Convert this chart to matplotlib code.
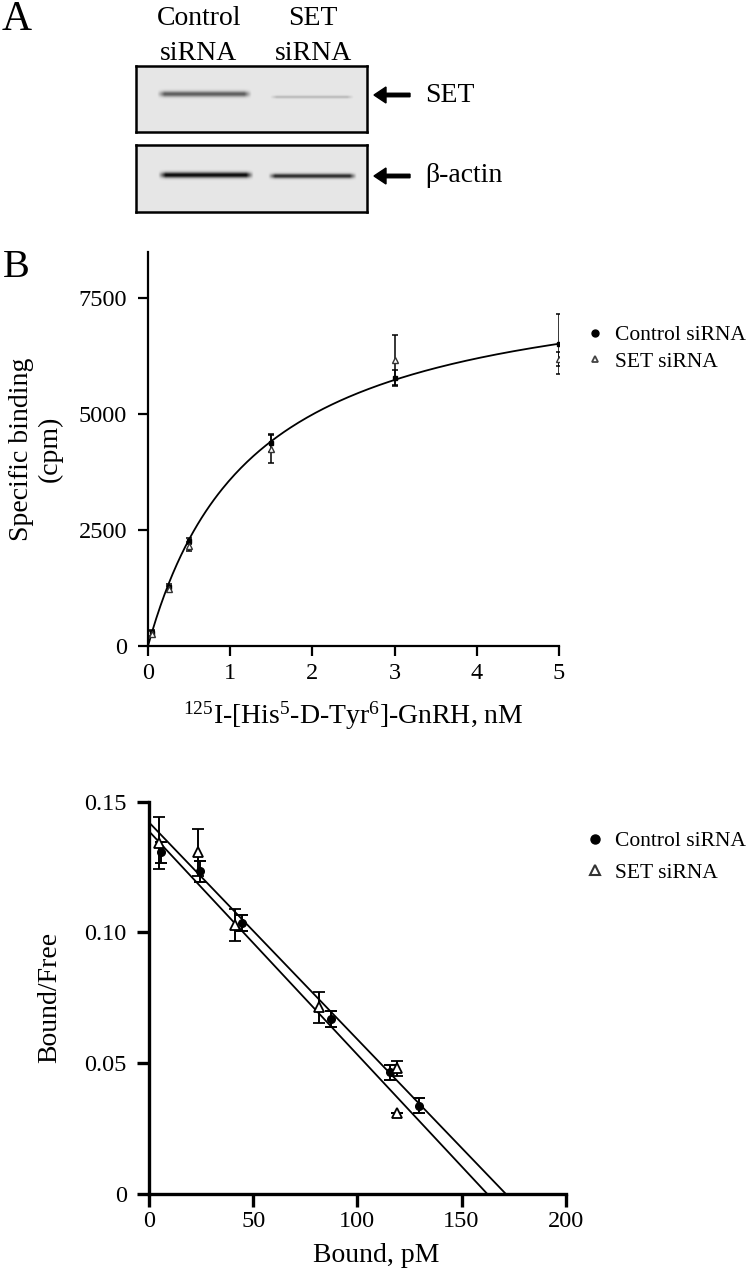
import numpy as np
import matplotlib
matplotlib.use("Agg")
import matplotlib.pyplot as plt
from matplotlib.lines import Line2D

plt.rcParams['font.family'] = ['Liberation Serif', 'DejaVu Serif']
plt.rcParams['mathtext.fontset'] = 'custom'
plt.rcParams['mathtext.rm'] = 'Liberation Serif'

# --- panel A: western blot band intensities (0 = none, 1 = black)
lanes = ['Control\nsiRNA', 'SET\nsiRNA']
set_band = [0.6, 0.2]
actin_band = [0.97, 0.82]

# --- panel B: saturation binding
conc_nM = [0.05, 0.25, 0.5, 1.5, 3, 5]
ctrl_bind = [280, 1270, 2270, 4375, 5780, 6520]
ctrl_bind_err = [60, 60, 60, 200, 170, 650]
set_bind = [260, 1240, 2150, 4245, 6160, 6185]
set_bind_err = [60, 60, 90, 300, 540, 150]
bmax_fit = 8190
kd_fit = 1.28

# --- panel C: Scatchard
ctrl_bound = [5.8, 24.3, 44.4, 87.4, 115.6, 129.4]
ctrl_bf = [0.1307, 0.1234, 0.1036, 0.0670, 0.0465, 0.0338]
ctrl_bf_err = [0.004, 0.004, 0.003, 0.003, 0.003, 0.003]
set_bound = [5.0, 23.5, 41.2, 81.8, 118.8, 118.8]
set_bf = [0.1343, 0.1307, 0.1029, 0.0714, 0.0480, 0.0310]
set_bf_err = [0.010, 0.009, 0.006, 0.006, 0.003, 0.0]
ctrl_line = (0.1421, 171.3)   # (y intercept, x intercept)
set_line = (0.1387, 162.4)

W, H = 750, 1279
fig = plt.figure(figsize=(7.5, 12.79), dpi=100)


def fx(px):
    return px / W


def fy(py):
    return 1 - py / H


# ---------------- Panel A ----------------
fig.text(fx(2), fy(30), 'A', fontsize=30, va='baseline', ha='left')
fig.text(fx(199), fy(25), 'Control', fontsize=20, ha='center', va='baseline')
fig.text(fx(199), fy(60), 'siRNA', fontsize=20, ha='center', va='baseline')
fig.text(fx(313), fy(25), 'SET', fontsize=20, ha='center', va='baseline')
fig.text(fx(313), fy(60), 'siRNA', fontsize=20, ha='center', va='baseline')


def draw_band(ax, x0, x1, yc, h, level):
    nx, ny = 200, 60
    xs = np.linspace(0, 1, nx)
    ys = np.linspace(-1.5, 1.5, ny)
    taper = np.clip(np.minimum(xs, 1 - xs) / 0.08, 0, 1)
    prof = np.exp(-ys ** 2 * 2.0)
    a = level * np.outer(prof, taper)
    img = np.zeros((ny, nx, 4))
    img[..., 3] = np.clip(a, 0, 1)
    ax.imshow(img, extent=(x0, x1, yc - 1.5 * h, yc + 1.5 * h), origin='lower',
              aspect='auto', interpolation='bilinear', zorder=2)


blot_boxes = [
    (66, 132, set_band, [(0.09, 0.50, 0.576, 0.06), (0.58, 0.94, 0.53, 0.03)], 'SET', 95),
    (145, 211.7, actin_band, [(0.095, 0.51, 0.55, 0.055), (0.57, 0.955, 0.525, 0.045)], 'β-actin', 176),
]
for top, bot, levels, geo, name, ymid in blot_boxes:
    bx = fig.add_axes([fx(136), fy(bot), (367 - 136) / W, (bot - top) / H])
    bx.set_facecolor('#e6e6e6')
    bx.set_xlim(0, 1)
    bx.set_ylim(0, 1)
    bx.set_xticks([])
    bx.set_yticks([])
    for sp in bx.spines.values():
        sp.set_linewidth(1.8)
    for lvl, (x0, x1, yc, h) in zip(levels, geo):
        draw_band(bx, x0, x1, yc, h, lvl)
    fig.add_artist(matplotlib.patches.FancyArrow(
        fx(410), fy(ymid), fx(374) - fx(410), 0, width=3.5 / H,
        head_width=16 / H, head_length=12 / W, length_includes_head=True,
        color='black', transform=fig.transFigure))
    fig.text(fx(425), fy(ymid), name, fontsize=20, va='center', ha='left')

# ---------------- Panel B ----------------
fig.text(fx(3), fy(277), 'B', fontsize=29, va='baseline', ha='left')
axb = fig.add_axes([fx(148), fy(646), (559 - 148) / W, (646 - 252) / H])
xfit = np.linspace(0, 5, 200)
axb.plot(xfit, bmax_fit * xfit / (kd_fit + xfit), color='black', lw=1.3, zorder=2)
axb.errorbar(conc_nM, ctrl_bind, yerr=ctrl_bind_err, fmt='s', ms=3.5, color='black',
             mfc='black', ecolor='black', elinewidth=1.1, capsize=2.5, capthick=1.1, zorder=3)
axb.errorbar(conc_nM, set_bind, yerr=set_bind_err, fmt='^', ms=4.5, color='black',
             mfc='white', mec='#333333', ecolor='black', elinewidth=1.1, capsize=2.5,
             capthick=1.1, zorder=3)
axb.set_xlim(0, 5)
axb.set_ylim(0, 8500)
axb.set_xticks([0, 1, 2, 3, 4, 5])
axb.set_yticks([0, 2500, 5000, 7500])
axb.spines['top'].set_visible(False)
axb.spines['right'].set_visible(False)
for sp in ('left', 'bottom'):
    axb.spines[sp].set_linewidth(1.6)
axb.tick_params(axis='both', labelsize=17.5, width=1.6, length=7)
axb.tick_params(axis='y', pad=8)
axb.tick_params(axis='x', pad=5)
axb.set_ylabel('Specific binding\n(cpm)', fontsize=20, va='center', linespacing=1.15)
axb.yaxis.set_label_coords((36 - 148) / 411, 0.5)
axb.set_xlabel(r'$\mathregular{^{125}}$I-[His$\mathregular{^{5}}$-D-Tyr$\mathregular{^{6}}$]-GnRH, nM',
               fontsize=20, va='center')
axb.xaxis.set_label_coords(0.5, (646 - 716) / 394)
hb = [Line2D([], [], ls='none', marker='o', ms=5, color='black'),
      Line2D([], [], ls='none', marker='^', ms=5, mfc='white', mec='#444444', mew=1.3)]
axb.legend(hb, ['Control siRNA', 'SET siRNA'], loc='upper left',
           bbox_to_anchor=(fx(586), fy(325)), bbox_transform=fig.transFigure,
           frameon=False, fontsize=15.5, handlelength=0.8, handletextpad=0.55,
           labelspacing=0.3, borderpad=0, borderaxespad=0)

# ---------------- Panel C ----------------
axc = fig.add_axes([fx(149), fy(1194), (565.7 - 149) / W, (1194 - 801.7) / H])
for yi, xi in (ctrl_line, set_line):
    axc.plot([0, xi], [yi, 0], color='black', lw=1.3, zorder=2)
axc.errorbar(ctrl_bound, ctrl_bf, yerr=ctrl_bf_err, fmt='o', ms=5.5, color='black',
             ecolor='black', elinewidth=1.4, capsize=4.5, capthick=1.4, zorder=3)
axc.errorbar(set_bound, set_bf, yerr=set_bf_err, fmt='^', ms=7.5, color='black',
             mfc='white', mec='black', mew=1.3, ecolor='black', elinewidth=1.4,
             capsize=4.5, capthick=1.4, zorder=4)
axc.set_xlim(0, 200)
axc.set_ylim(0, 0.15)
axc.set_xticks([0, 50, 100, 150, 200])
axc.set_yticks([0, 0.05, 0.10, 0.15], ['0', '0.05', '0.10', '0.15'])
axc.spines['top'].set_visible(False)
axc.spines['right'].set_visible(False)
for sp in ('left', 'bottom'):
    axc.spines[sp].set_linewidth(2.4)
axc.tick_params(axis='both', labelsize=17.5, width=2.4, length=9)
axc.tick_params(axis='y', pad=7)
axc.tick_params(axis='x', pad=3)
axc.set_ylabel('Bound/Free', fontsize=20, va='center')
axc.yaxis.set_label_coords((50 - 149) / 416.7, 0.5)
axc.set_xlabel('Bound, pM', fontsize=20, va='center')
axc.xaxis.set_label_coords((376 - 149) / 416.7, (1194 - 1255) / 392.3)
hc = [Line2D([], [], ls='none', marker='o', ms=6.5, color='black'),
      Line2D([], [], ls='none', marker='^', ms=6.5, mfc='white', mec='#333333', mew=1.5)]
axc.legend(hc, ['Control siRNA', 'SET siRNA'], loc='upper left',
           bbox_to_anchor=(fx(586), fy(831)), bbox_transform=fig.transFigure,
           frameon=False, fontsize=15.5, handlelength=0.8, handletextpad=0.55,
           labelspacing=0.55, borderpad=0, borderaxespad=0)

fig.savefig('out.png', dpi=100)
